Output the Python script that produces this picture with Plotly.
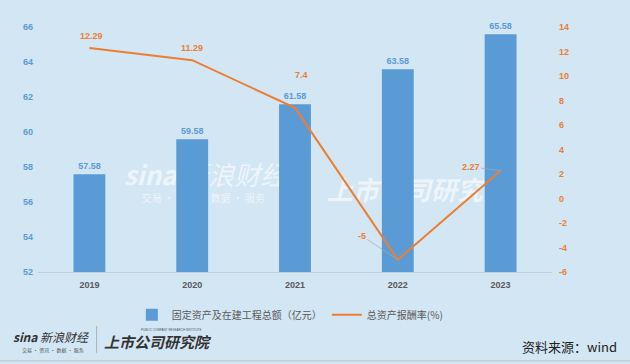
import plotly.graph_objects as go

years = ["2019", "2020", "2021", "2022", "2023"]
assets = [57.58, 59.58, 61.58, 63.58, 65.58]
roa = [12.29, 11.29, 7.4, -5, 2.27]
left_ticks = [52, 54, 56, 58, 60, 62, 64, 66]
right_ticks = [-6, -4, -2, 0, 2, 4, 6, 8, 10, 12, 14]

BLUE = "#5b9bd5"
ORANGE = "#ed7d31"
BG = "#d3e6f4"
FONT = "Liberation Sans, Arial, sans-serif"
CJK = "Noto Sans CJK SC, sans-serif"
WM = "rgba(255,255,255,0.6)"

fig = go.Figure()
fig.add_trace(go.Bar(
    x=years, y=assets, name="固定资产及在建工程总额（亿元）",
    marker=dict(color=BLUE, line=dict(width=0)), width=0.31,
    text=[f"{v:.2f}" for v in assets], textposition="outside",
    textfont=dict(color=BLUE, size=9, family=FONT, weight="bold"),
    cliponaxis=False,
))
fig.add_trace(go.Scatter(
    x=years, y=roa, name="总资产报酬率(%)", yaxis="y2", mode="lines",
    line=dict(color=ORANGE, width=2),
))

# line labels (x given as category index)
offsets = [(2, 12, False), (0, 12, False), (6, 33, False), (-36, 24, True), (-30, 4, True)]
for i, (v, (dx, dy, arrow)) in enumerate(zip(roa, offsets)):
    txt = f"{v:g}"
    if arrow:
        fig.add_annotation(x=i, y=v, xref="x", yref="y2", text=txt, showarrow=True,
                           arrowhead=0, arrowwidth=0.7, arrowcolor="#a6a6a6", ax=dx, ay=-dy,
                           standoff=0,
                           font=dict(color=ORANGE, size=9, family=FONT, weight="bold"))
    else:
        fig.add_annotation(x=i, y=v, xref="x", yref="y2", text=txt, showarrow=False,
                           xshift=dx, yshift=dy,
                           font=dict(color=ORANGE, size=9, family=FONT, weight="bold"))

# watermark (below the bars)
def wm(x0, y0, text, size, italic=True):
    fig.add_shape(type="rect", xref="paper", yref="paper", x0=x0, x1=x0 + 0.01, y0=y0 - 0.01, y1=y0 + 0.01,
                  layer="below", line=dict(width=0), fillcolor="rgba(0,0,0,0)",
                  label=dict(text=text, textposition="middle left",
                             font=dict(color=WM, size=size, family=CJK,
                                       style="italic" if italic else "normal")))

wm(0.155, 0.384, "<b>sina</b> 新浪财经", 26)
wm(0.19, 0.294, "交易 · 资讯 · 数据 · 服务", 10, italic=False)
wm(0.55, 0.325, "<b>上市公司研究院</b>", 26)

# footer
fig.add_annotation(x=-0.052, y=-0.262, xref="paper", yref="paper",
                   text="<b><i>sina</i></b> <i>新浪财经</i>", xanchor="left", yanchor="middle",
                   showarrow=False, font=dict(color="#333333", size=12, family=CJK))
fig.add_annotation(x=-0.035, y=-0.318, xref="paper", yref="paper",
                   text="交易 · 资讯 · 数据 · 服务", xanchor="left", yanchor="middle",
                   showarrow=False, font=dict(color="#555555", size=5, family=CJK))
fig.add_annotation(x=0.125, y=-0.285, xref="paper", yref="paper", text="<b><i>上市公司研究院</i></b>",
                   xanchor="left", yanchor="middle", showarrow=False,
                   font=dict(color="#333333", size=15, family=CJK))
fig.add_annotation(x=0.196, y=-0.238, xref="paper", yref="paper",
                   text="PUBLIC COMPANY RESEARCH INSTITUTE", xanchor="left", yanchor="middle",
                   showarrow=False, font=dict(color="#555555", size=3, family=FONT))
fig.add_annotation(x=1.131, y=-0.306, xref="paper", yref="paper", text="资料来源：wind",
                   xanchor="right", yanchor="middle", showarrow=False,
                   font=dict(color="#222222", size=13, family=CJK))
fig.add_shape(type="line", xref="paper", yref="paper", x0=0.114, x1=0.114, y0=-0.33, y1=-0.22,
              line=dict(color="#b0b0b0", width=1))
fig.add_shape(type="line", xref="paper", yref="paper", x0=-0.075, x1=1.152, y0=-0.363, y1=-0.363,
              line=dict(color="#bfbfbf", width=1))

fig.update_layout(
    width=630, height=364,
    margin=dict(l=38, r=78, t=27, b=92, autoexpand=False),
    paper_bgcolor=BG, plot_bgcolor=BG,
    showlegend=True,
    legend=dict(orientation="h", x=0.49, xanchor="center", y=-0.115, yanchor="top",
                font=dict(size=10, color="#595959", family=CJK), bgcolor="rgba(0,0,0,0)"),
    xaxis=dict(type="category", range=[-0.5, 4.5], showgrid=False, showline=True,
               linecolor="#c0cfdc", linewidth=1, ticks="", ticklabelstandoff=4,
               tickfont=dict(size=9, color="#595959", family=FONT, weight="bold")),
    yaxis=dict(range=[52, 66], tickvals=left_ticks, showgrid=False, zeroline=False,
               showline=False, ticklabelstandoff=4,
               tickfont=dict(size=9, color=BLUE, family=FONT, weight="bold")),
    yaxis2=dict(range=[-6, 14], tickvals=right_ticks, ticktext=[str(t) for t in right_ticks],
                overlaying="y", side="right", showgrid=False, zeroline=False, showline=False,
                ticklabelstandoff=6,
                tickfont=dict(size=9, color=ORANGE, family=FONT, weight="bold")),
)

fig.write_html("out.html", config={"displayModeBar": False},
               post_script="document.body.style.margin='0';document.body.style.background='%s';" % BG)
